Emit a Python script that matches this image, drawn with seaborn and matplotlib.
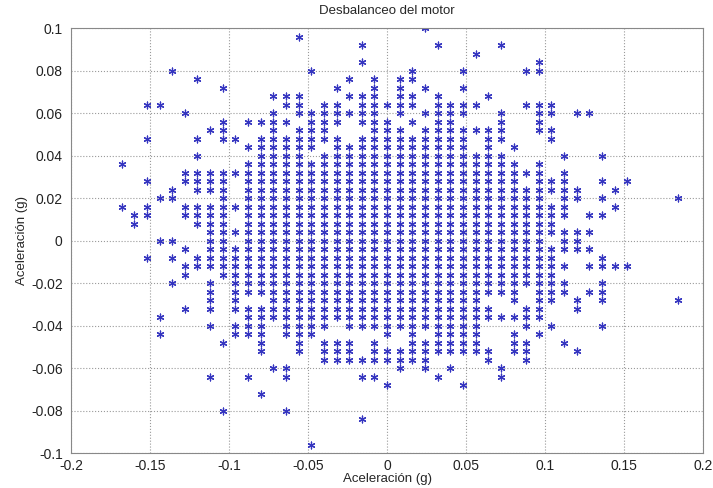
import numpy as np
import pandas as pd
import matplotlib
matplotlib.use('Agg')
import matplotlib.pyplot as plt
import seaborn as sns

# ── Data: quantised accelerometer readings (grid steps in g) ──────
x_step = 0.008
y_step = 0.004

# each entry: (row index along y, column indices along x)
C = [-11, -10, -9, -8, -7, -6, -5, -4, -3, -2, -1, 0, 1, 2, 3, 4, 5, 6, 7, 8, 9, 10]

rows_upper = [
    (25, [3]),
    (24, [-7]),
    (23, [-2, 4, 9]),
    (22, [7]),
    (21, [-2, 12]),
    (20, [-17, -6, 2, 6, 11, 12]),
    (19, [-15, -3, -1, 1, 2]),
    (18, [-13, -4, -1, 1, 3, 6]),
    (17, [-9, -8, -7, -3, -2, -1, 1, 2, 4, 8]),
    (16, [-19, -18, -8, -7, -5, -4, -2, -1, 0, 1, 2, 4, 5, 6, 7, 11, 12, 13]),
    (15, [-16, -9, -7, -6, -5, -4, -3, -2, -1, 1, 3, 4, 5, 6, 9, 12, 13, 15, 16]),
    (14, [-13, -11, -10, -9, -8, -6, -5, -4, -2, -1, 0, 2, 4, 5, 9, 12]),
    (13, [-14, -13, -9, -7, -6, -5, -1, 0, 1, 3, 4, 5, 6, 7, 8, 9, 12, 13]),
    (12, [-19, -15, -13, -12, -10, -9, -8, -7, -6, -5, -4, -2, -1, 0, 1, 2, 3, 4, 5, 6, 8, 9, 13]),
    (11, [-11, -10, -9, -8, -7, -6, -4, -3, -2, -1, 0, 1, 2, 3, 4, 5, 6, 8, 10]),
    (10, [-15, -10, -9, -8, -7, -5, -4, -3, -2, -1, 0, 1, 2, 3, 4, 5, 6, 7, 8, 9, 14, 17]),
]

rows_core = [
    (9, [-21] + C + [12]),
    (8, [-16, -15, -14, -13, -12] + C + [11, 12, 14]),
    (7, [-19, -16, -15, -14, -13] + C + [12, 13, 14, 17, 19]),
    (6, [-17, -15, -14, -13] + C + [11, 12, 13, 14, 15, 18]),
    (5, [-18, -17, -13] + C + [11, 12, 14, 15, 17, 23]),
    (4, [-21, -19, -16, -15, -14, -13, -12] + C + [11, 12, 13, 14, 18]),
    (3, [-20, -19, -16, -15, -14, -13] + C + [11, 12, 13, 14, 16, 17]),
    (2, [-20, -15, -14, -13] + C + [11, 12, 13]),
    (1, [-14, -13, -12] + C + [11, 12, 13, 14, 15, 16]),
    (0, [-18, -17, -14, -13] + C + [11, 12, 14, 15]),
    (-1, [-16, -14, -13, -12] + C + [11, 12, 13, 14, 15, 16]),
    (-2, [-19, -17, -15, -14, -13, -12] + C + [11, 12, 13, 17]),
    (-3, [-16, -15, -14, -13, -12] + C + [11, 12, 13, 14, 16, 17, 18, 19]),
    (-4, [-16, -13, -12] + C + [11, 12, 13]),
    (-5, [-17, -14, -12] + C + [11, 12, 13, 14, 17]),
    (-6, [-14, -12] + C + [12, 13, 14, 16, 17]),
    (-9, [-18] + C + [11, 12]),
]

rows_lower = [
    (-7, [-14, -12, -9, -8, -7, -6, -5, -4, -3, -2, -1, 0, 1, 2, 3, 4, 5, 6, 7, 10, 12, 13, 15, 17, 23]),
    (-8, [-16, -14, -12, -11, -10, -9, -8, -7, -6, -5, -4, -3, -2, -1, 0, 1, 2, 3, 4, 5, 6, 7, 8, 11, 12, 15]),
    (-10, [-14, -12, -11, -10, -8, -7, -6, -5, -3, -2, -1, 0, 1, 2, 3, 4, 5, 6, 7, 11, 13, 17]),
    (-11, [-18, -12, -11, -10, -8, -7, -6, 0, 2, 4, 5, 6, 7, 10, 12]),
    (-12, [-13, -10, -7, -5, -4, -3, -1, 2, 3, 4, 5, 6, 7, 10, 11, 14]),
    (-13, [-10, -7, -5, -4, -3, -1, 0, 1, 2, 3, 4, 5, 6, 7, 8, 10, 11, 15]),
    (-14, [-5, -4, -3, -2, -1, 0, 1, 2, 3, 8, 11]),
    (-15, [-9, -8, 1, 3, 5, 9]),
    (-16, [-14, -11, -8, -2, -1, 4, 9]),
    (-17, [0, 6]),
    (-18, [-10]),
    (-20, [-13, -8]),
    (-21, [-2]),
    (-24, [-6]),
]

x_ticks = [-0.2, -0.15, -0.1, -0.05, 0, 0.05, 0.1, 0.15, 0.2]
x_labels = ['-0.2', '-0.15', '-0.1', '-0.05', '0', '0.05', '0.1', '0.15', '0.2']
y_ticks = [-0.1, -0.08, -0.06, -0.04, -0.02, 0, 0.02, 0.04, 0.06, 0.08, 0.1]
y_labels = ['-0.1', '-0.08', '-0.06', '-0.04', '-0.02', '0', '0.02', '0.04', '0.06', '0.08', '0.1']

# ── Build table ───────────────────────────────────────────────
xs, ys = [], []
for j, ks in rows_upper + rows_core + rows_lower:
    for k in ks:
        xs.append(k * x_step)
        ys.append(j * y_step)
df = pd.DataFrame({'ax': xs, 'ay': ys})

# ── Plot ──────────────────────────────────────────────────────
sns.set_theme(style='white')
plt.rcParams['font.family'] = ['Liberation Sans', 'DejaVu Sans']

fig = plt.figure(figsize=(7.13, 4.88), dpi=100)
ax = fig.add_axes([0.0996, 0.0717, 0.8866, 0.8709])

sns.scatterplot(data=df, x='ax', y='ay', marker=(6, 2, 0), s=24,
                color='#3535c0', edgecolor='#3535c0', linewidth=0.9, ax=ax)

ax.set_xlim(-0.2, 0.2)
ax.set_ylim(-0.1, 0.1)
ax.set_xticks(x_ticks)
ax.set_xticklabels(x_labels)
ax.set_yticks(y_ticks)
ax.set_yticklabels(y_labels)
ax.tick_params(axis='both', direction='in', length=3, labelsize=10, colors='#222222')
ax.tick_params(axis='x', pad=4)
ax.tick_params(axis='y', pad=6)
ax.grid(True, linestyle=':', color='#9a9a9a', linewidth=0.8)
for sp in ax.spines.values():
    sp.set_color('#888888')
    sp.set_linewidth(0.8)

ax.set_title('Desbalanceo del motor', fontsize=9.5, pad=10)
ax.set_xlabel('Aceleración (g)', fontsize=9.5, labelpad=0)
ax.set_ylabel('Aceleración (g)', fontsize=9.5, labelpad=2)

plt.savefig('out.png', dpi=100)
plt.close()
